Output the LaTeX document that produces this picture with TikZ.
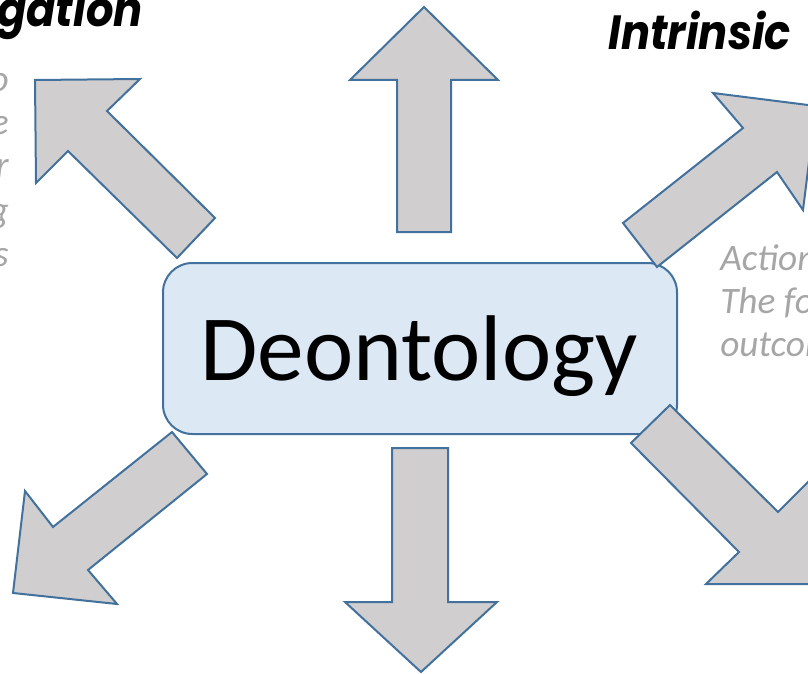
\documentclass[tikz,border=0pt]{standalone}
\usepackage{fontspec}
\setmainfont{Carlito}
\newfontfamily\headfont[FakeStretch=0.9]{Poppins}

\definecolor{arrowgray}{HTML}{D0CECE}
\definecolor{edgeblue}{HTML}{41719C}
\definecolor{boxblue}{HTML}{DDE8F5}
\definecolor{notegray}{HTML}{A6A6A6}

\tikzset{
	blockarrow/.style={fill=arrowgray, draw=edgeblue, line width=1.5pt, line join=miter},
	centrebox/.style={rectangle, rounded corners=22pt, fill=boxblue, draw=edgeblue, line width=1.5pt},
	headtext/.style={font=\headfont\fontsize{36}{43}\selectfont\bfseries\itshape, inner sep=0pt},
	notetext/.style={font=\fontsize{28}{33.6}\selectfont\itshape, text=notegray, inner sep=0pt}
}

\begin{document}
\begin{tikzpicture}[x=0.75pt, y=-0.75pt]
	\useasboundingbox (0,0) rectangle (808,674);
	\clip (0,0) rectangle (808,674);
	% centre box
	\node[centrebox, minimum width=385.5pt, minimum height=128.25pt] (deon) at (420,348.5) {};
	\node[font=\fontsize{70}{84}\selectfont, inner sep=0pt, anchor=base] (deontext) at (419,380) {Deontology};
	% block arrows
	\draw[blockarrow] (397,232) -- (397,80) -- (350,80) -- (424,7) -- (498,80) -- (451,80) -- (451,232) -- cycle;
	\draw[blockarrow] (392,448) -- (448,448) -- (448,602) -- (497,602) -- (421,672) -- (345,602) -- (392,602) -- cycle;
	\draw[blockarrow] (215,218) -- (107,111) -- (140,79) -- (35,80) -- (36,183) -- (68,151) -- (177,258) -- cycle;
	\draw[blockarrow] (657,267) -- (623,223) -- (743,128) -- (713,93) -- (816,106) -- (803,210) -- (777,172) -- cycle;
	\draw[blockarrow] (670,405) -- (631,443) -- (739,552) -- (706,584) -- (810,584) -- (810,480) -- (778,512) -- cycle;
	\draw[blockarrow] (172,432) -- (207,474) -- (88,570) -- (117,604) -- (13,593) -- (25,491) -- (53,527) -- cycle;
	% headings
	\node[headtext, anchor=base east] (oblig) at (143,27) {gation};
	\node[headtext, anchor=base west] (intr) at (608,50) {Intrinsic};
	% left notes
	\node[notetext, anchor=base east] (l1) at (9,92) {o};
	\node[notetext, anchor=base east] (l2) at (9,135) {e};
	\node[notetext, anchor=base east] (l3) at (9,178) {r};
	\node[notetext, anchor=base east] (l4) at (9,223) {g};
	\node[notetext, anchor=base east] (l5) at (9,267) {s};
	% right notes
	\node[notetext, anchor=base west] (r1) at (720,270) {Action};
	\node[notetext, anchor=base west] (r2) at (720,313) {The fo};
	\node[notetext, anchor=base west] (r3) at (720,356) {outcom};
\end{tikzpicture}
\end{document}
